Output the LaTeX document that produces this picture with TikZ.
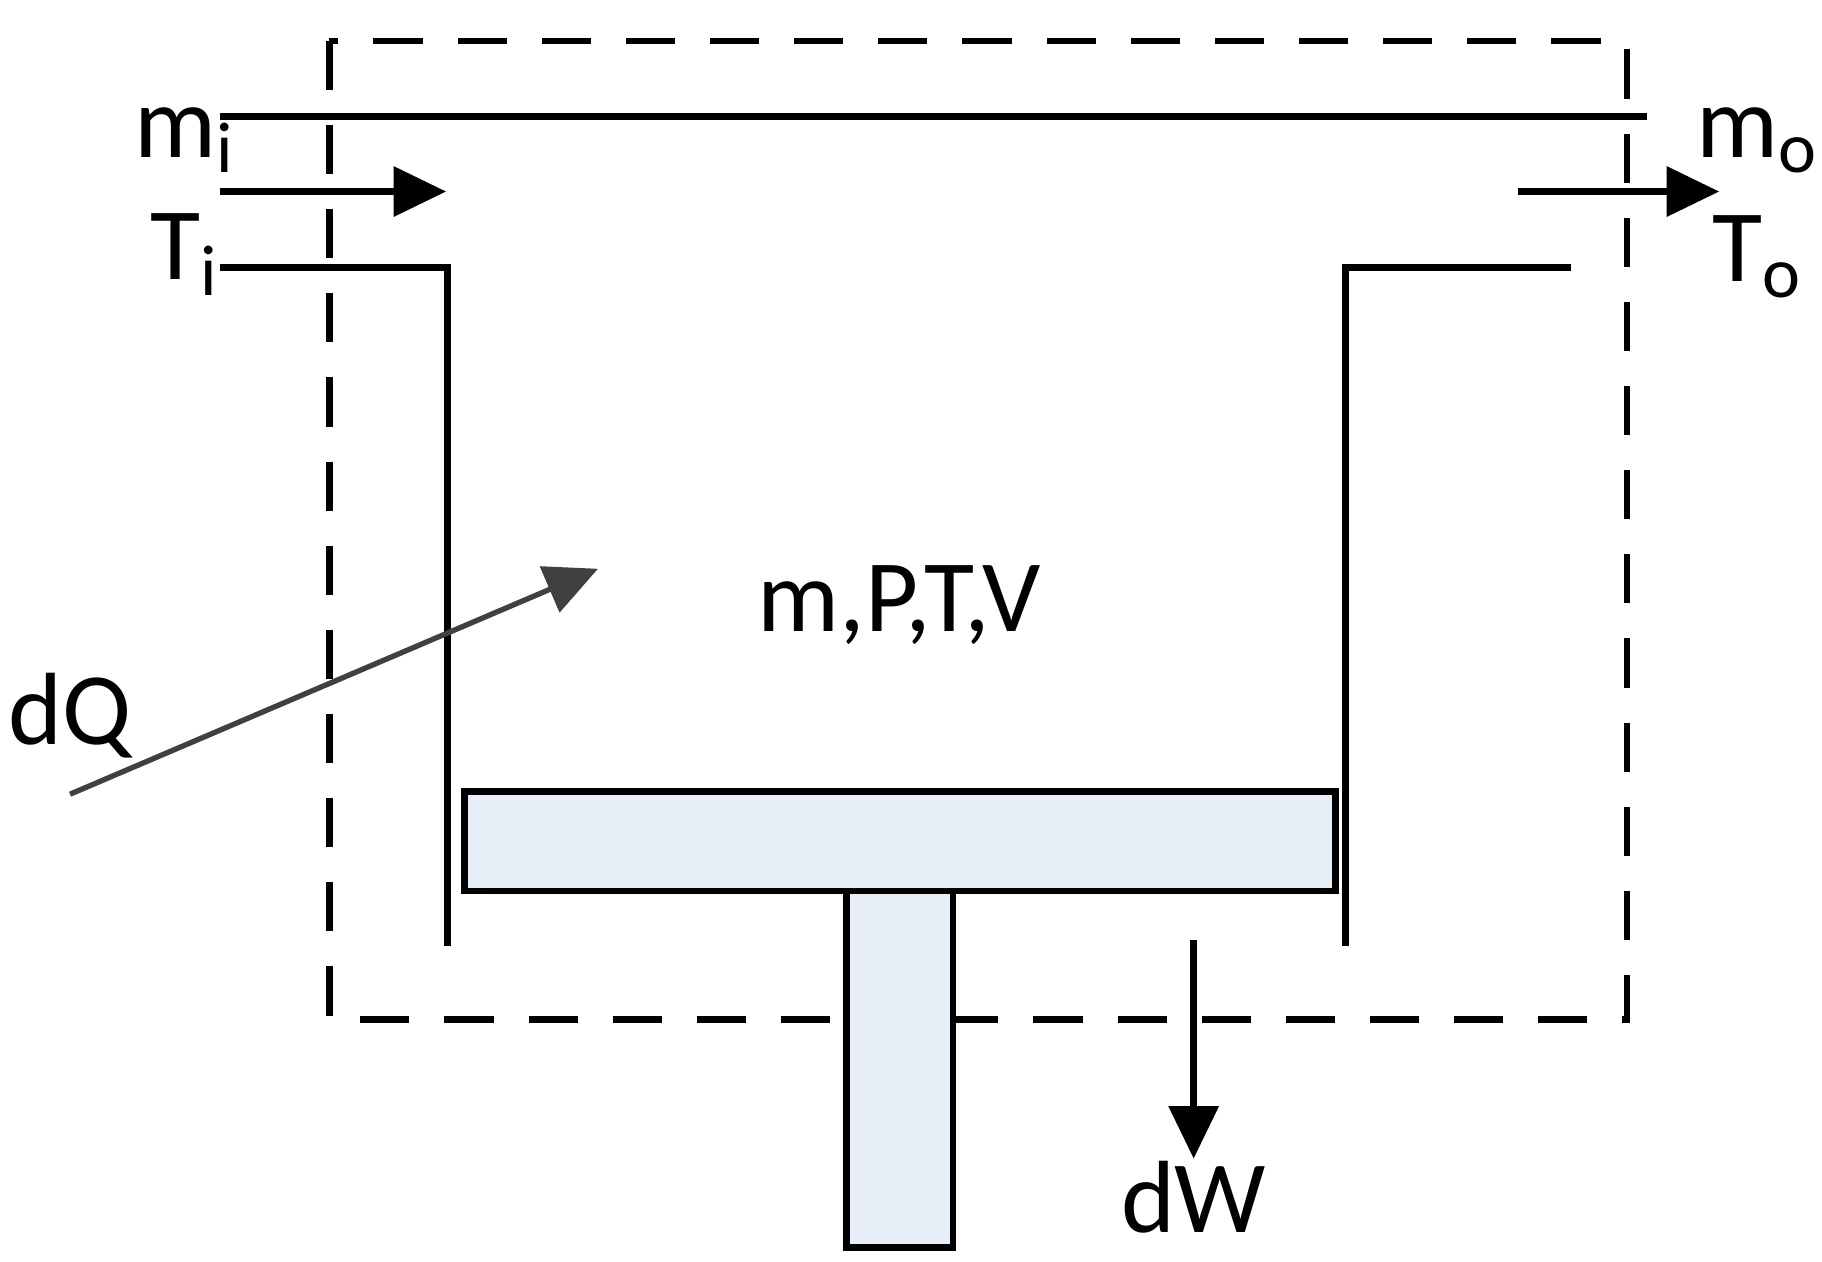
\documentclass[tikz,border=0pt]{standalone}
\usepackage{fontspec}
\setmainfont{Carlito}
\usetikzlibrary{arrows.meta}
\definecolor{piston}{HTML}{E6EEF8}
\tikzset{
 wall/.style={line width=1.6pt},
 big/.style={-{Triangle[length=0.45cm,width=0.42cm]},line width=1.6pt},
 lbl/.style={font=\fontsize{25}{29}\selectfont, inner sep=0pt}
}
\begin{document}
\begin{tikzpicture}[x=0.01cm,y=-0.01cm]
\useasboundingbox (0,0) rectangle (1560,1080);
\draw[wall, dash pattern=on 0.42cm off 0.3cm] (282,35) rectangle (1393,873);
\draw[wall] (188,100) -- (1410,100);
\coordinate (ia) at (188,164); \coordinate (ib) at (382,164);
\draw[big] (ia) -- (ib);
\coordinate (oa) at (1300,164); \coordinate (ob) at (1472,164);
\draw[big] (oa) -- (ob);
\draw[wall] (188,229) -- (383,229) -- (383,810);
\draw[wall] (1345,229) -- (1152,229) -- (1152,810);
\node[draw, wall, fill=piston, minimum width=7.45cm, minimum height=0.85cm, anchor=north west, inner sep=0pt] (head) at (395,675) {};
\node[draw, wall, fill=piston, minimum width=0.91cm, minimum height=3.05cm, anchor=north west, inner sep=0pt] (rod) at (722,760) {};
\coordinate (wa) at (1022,805); \coordinate (wb) at (1022,992);
\draw[big] (wa) -- (wb);
\coordinate (qa) at (60,680); \coordinate (qb) at (512,487);
\draw[-{Triangle[length=0.45cm,width=0.42cm]}, line width=1.3pt, black!75] (qa) -- (qb);
\node[lbl] (mptv) at (770,518) {m,P,T,V};
\node[lbl] (dw) at (1022,1025) {dW};
\node[lbl] (dq) at (60,613) {dQ};
\node[lbl] (mi) at (158,120) {m$_{\mathrm{i}}$};
\node[lbl] (ti) at (158,218) {T$_{\mathrm{i}}$};
\node[lbl] (mo) at (1505,120) {m$_{\mathrm{o}}$};
\node[lbl] (to) at (1505,220) {T$_{\mathrm{o}}$};
\end{tikzpicture}
\end{document}
